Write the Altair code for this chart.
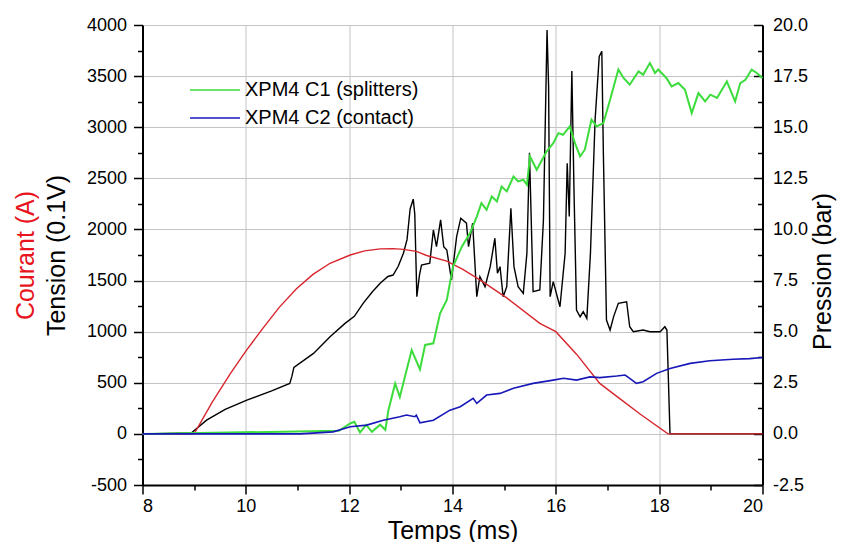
import altair as alt
import pandas as pd

# ---------------- data ----------------
temps_courant = [8.0, 9.0, 9.35, 9.7, 10.0, 10.34, 10.65, 10.98, 11.3, 11.63, 12.02, 12.3, 12.6,
                 12.85, 13.05, 13.3, 13.5, 13.89, 14.2, 14.53, 15.05, 15.69, 16.0, 16.4, 16.85,
                 17.25, 17.63, 18.17, 20.0]
courant = [0, 0, 310, 590, 810, 1040, 1240, 1420, 1560, 1669, 1750, 1790, 1810,
           1812, 1805, 1785, 1745, 1690, 1610, 1506, 1330, 1081, 1000, 780, 494,
           340, 195, 0, 0]

temps_tension = [8.0, 8.95, 9.24, 9.6, 10.02, 10.5, 10.85, 10.89, 10.93, 11.31, 11.63, 11.92, 12.1,
                 12.27, 12.45, 12.6, 12.75, 12.85, 12.95, 13.05, 13.12, 13.18, 13.24, 13.27, 13.31,
                 13.36, 13.40, 13.56, 13.63, 13.69, 13.77, 13.83, 13.89, 13.98, 14.08, 14.16, 14.27,
                 14.31, 14.39, 14.47, 14.53, 14.63, 14.73, 14.82, 14.87, 14.92, 14.98, 15.05, 15.13,
                 15.19, 15.27, 15.37, 15.44, 15.49, 15.56, 15.69, 15.76, 15.83, 15.86, 15.89, 15.95,
                 16.08, 16.18, 16.22, 16.26, 16.31, 16.35, 16.40, 16.47, 16.53, 16.60, 16.67, 16.76,
                 16.84, 16.89, 16.92, 16.98, 17.05, 17.12, 17.21, 17.37, 17.43, 17.50, 17.69, 17.82,
                 18.02, 18.11, 18.15, 18.21, 20.0]
tension = [0, 10, 134, 240, 330, 420, 494, 560, 650, 787, 950, 1081, 1150,
           1277, 1390, 1473, 1540, 1554, 1640, 1767, 1900, 2200, 2296, 2150, 1342,
           1550, 1652, 1669, 1995, 1832, 2093, 1832, 1799, 1506, 1930, 2110, 2061,
           1832, 2061, 1342, 1538, 1440, 1636, 1914, 1571, 1636, 1342, 1440, 2208,
           1636, 1440, 1375, 1767, 2750, 1391, 1408, 2093, 3950, 3399, 1342, 1489,
           1244, 1767, 2648, 2126, 3550, 2420, 1212, 1146, 1195, 1130, 1767, 3073,
           3693, 3742, 2747, 1114, 1016, 1150, 1277, 1293, 1048, 999, 1016, 999,
           999, 1048, 1016, 0, 0]

temps_c1 = [8.0, 11.8, 12.02, 12.1, 12.21, 12.33, 12.44, 12.6, 12.7, 12.76, 12.89, 12.98, 13.21,
            13.37, 13.47, 13.63, 13.76, 13.89, 14.01, 14.18, 14.34, 14.47, 14.56, 14.66, 14.76,
            14.86, 14.95, 15.05, 15.18, 15.27, 15.37, 15.44, 15.50, 15.63, 15.82, 15.95, 16.05,
            16.14, 16.27, 16.37, 16.47, 16.56, 16.69, 16.79, 16.92, 17.05, 17.21, 17.31, 17.43,
            17.60, 17.69, 17.82, 17.92, 17.98, 18.14, 18.24, 18.37, 18.50, 18.63, 18.76, 18.89,
            18.99, 19.12, 19.31, 19.47, 19.57, 19.67, 19.79, 19.89, 20.0]
pression_c1 = [0, 0.15, 0.51, 0.59, 0.07, 0.44, 0.10, 0.45, 0.20, 1.16, 2.47, 1.81, 4.10,
               3.15, 4.35, 4.43, 5.90, 6.55, 8.18, 9.16, 9.82, 10.63, 11.29, 10.96, 11.61,
               11.37, 12.10, 11.86, 12.59, 12.35, 12.43, 12.18, 13.57, 12.92, 13.81, 14.22, 14.71,
               14.63, 15.04, 14.22, 13.57, 13.90, 15.37, 15.04, 15.20, 16.34, 17.82, 17.41, 17.08,
               17.73, 17.57, 18.14, 17.65, 17.82, 17.41, 17.00, 17.16, 16.83, 15.69, 16.67, 16.26,
               16.59, 16.43, 17.24, 16.26, 17.16, 17.32, 17.82, 17.65, 17.41]

temps_c2 = [8.0, 11.05, 11.69, 12.02, 12.34, 12.66, 12.98, 13.11, 13.27, 13.3, 13.37, 13.63, 13.95,
            14.15, 14.40, 14.47, 14.66, 14.92, 15.18, 15.56, 15.95, 16.15, 16.4, 16.66, 16.85,
            17.18, 17.34, 17.43, 17.56, 17.69, 17.95, 18.21, 18.6, 18.98, 19.43, 19.75, 20.0]
pression_c2 = [0, 0, 0.10, 0.35, 0.43, 0.67, 0.84, 0.92, 0.84, 0.92, 0.54, 0.67, 1.16,
               1.33, 1.74, 1.49, 1.90, 1.98, 2.23, 2.47, 2.63, 2.72, 2.63, 2.79, 2.75,
               2.83, 2.88, 2.72, 2.47, 2.55, 2.96, 3.20, 3.45, 3.58, 3.65, 3.68, 3.74]

x_ticks_major = [8, 10, 12, 14, 16, 18, 20]
x_ticks_minor = [9, 11, 13, 15, 17, 19]
y_left_major = [-500, 0, 500, 1000, 1500, 2000, 2500, 3000, 3500, 4000]
y_left_minor = [-250, 250, 750, 1250, 1750, 2250, 2750, 3250, 3750]
y_right_major = [-2.5, 0.0, 2.5, 5.0, 7.5, 10.0, 12.5, 15.0, 17.5, 20.0]
y_right_minor = [-1.25, 1.25, 3.75, 6.25, 8.75, 11.25, 13.75, 16.25, 18.75]

C1_LABEL = "XPM4 C1 (splitters)"
C2_LABEL = "XPM4 C2 (contact)"

# ---------------- styling ----------------
FONT = "Liberation Sans"
GRID = "#c4c4c4"
RED = "#d8262e"
GREEN = "#3cdc3c"
BLUE = "#1818b8"
MINUS = "\u2212"

df_courant = pd.DataFrame({"t": temps_courant, "v": courant})
df_tension = pd.DataFrame({"t": temps_tension, "v": tension})
df_c1 = pd.DataFrame({"t": temps_c1, "p": pression_c1, "serie": C1_LABEL})
df_c2 = pd.DataFrame({"t": temps_c2, "p": pression_c2, "serie": C2_LABEL})

xs = alt.Scale(domain=[8, 20], nice=False, zero=False)
yl = alt.Scale(domain=[-500, 4000], nice=False, zero=False)
yr = alt.Scale(domain=[-2.5, 20], nice=False, zero=False)

common_tick = dict(tickColor="black", tickWidth=1.5)

x_major_axis = alt.Axis(orient="bottom", values=x_ticks_major, format="d", grid=True, gridColor=GRID,
                        gridWidth=1, tickSize=9, domainColor="black", domainWidth=2,
                        labelFont=FONT, labelFontSize=18, labelColor="black", labelPadding=3,
                        title="Temps (ms)", titleFont=FONT, titleFontSize=25, titleFontWeight="normal",
                        titleColor="black", titleBaseline="alphabetic", titleY=53, **common_tick)
x_minor_axis = alt.Axis(orient="bottom", values=x_ticks_minor, grid=False, domain=False, labels=False,
                        tickSize=5, title=None, **common_tick)

y_left_major_axis = alt.Axis(orient="left", values=y_left_major, grid=True, gridColor=GRID,
                             labelExpr=f"replace(format(datum.value, 'd'), '{MINUS}', '-')",
                             gridWidth=1, tickSize=9, domainColor="black", domainWidth=2,
                             labelFont=FONT, labelFontSize=18, labelColor="black", labelPadding=7,
                             title="Tension (0.1V)", titleFont=FONT, titleFontSize=25,
                             titleFontWeight="normal", titleColor="black", titleAngle=270,
                             titleBaseline="alphabetic", titleAlign="center", titleX=-78, titleY=230,
                             **common_tick)
y_left_minor_axis = alt.Axis(orient="left", values=y_left_minor, grid=False, domain=False, labels=False,
                             tickSize=5, title="Courant (A)", titleFont=FONT, titleFontSize=25,
                             titleFontWeight="normal", titleColor="#e8141e", titleAngle=270,
                             titleBaseline="alphabetic", titleAlign="center", titleX=-109, titleY=230,
                             **common_tick)

y_right_label_axis = alt.Axis(orient="right", values=y_right_major, grid=False,
                              labelExpr=f"replace(format(datum.value, '.1f'), '{MINUS}', '-')",
                              ticks=False, tickSize=0, domainColor="black", domainWidth=2,
                              labelFont=FONT, labelFontSize=18, labelColor="black", labelPadding=10,
                              title="Pression (bar)", titleFont=FONT, titleFontSize=25,
                              titleFontWeight="normal", titleColor="black", titleAngle=270,
                              titleBaseline="alphabetic", titleAlign="center", titleX=68, titleY=246)
y_right_major_ticks = alt.Axis(orient="left", offset=-620, values=y_right_major, grid=False,
                               domain=False, labels=False, tickSize=9, title=None, **common_tick)
y_right_minor_ticks = alt.Axis(orient="left", offset=-620, values=y_right_minor, grid=False,
                               domain=False, labels=False, tickSize=5, title=None, **common_tick)

# legend: a wide horizontal stroke symbol drawn from a small symbol size
color_scale = alt.Scale(domain=[C1_LABEL, C2_LABEL], range=[GREEN, BLUE])
legend = alt.Legend(orient="none", legendX=62.5, legendY=55, title=None,
                    symbolType="M-5,0H5", symbolSize=100, symbolStrokeWidth=1.6,
                    labelFont=FONT, labelFontSize=20, labelColor="black", labelOffset=20,
                    labelLimit=400, rowPadding=8)

black = alt.Chart(df_tension).mark_line(color="black", strokeWidth=1.4).encode(
    x=alt.X("t:Q", scale=xs, axis=x_minor_axis),
    y=alt.Y("v:Q", scale=yl, axis=y_left_minor_axis),
)
red = alt.Chart(df_courant).mark_line(color=RED, strokeWidth=1.4).encode(
    x=alt.X("t:Q", scale=xs, axis=x_major_axis),
    y=alt.Y("v:Q", scale=yl, axis=y_left_major_axis),
)
green = alt.Chart(df_c1).mark_line(strokeWidth=2).encode(
    x=alt.X("t:Q", scale=xs, axis=None),
    y=alt.Y("p:Q", scale=yr, axis=y_right_label_axis),
    color=alt.Color("serie:N", scale=color_scale, legend=legend),
)
blue = alt.Chart(df_c2).mark_line(strokeWidth=1.6).encode(
    x=alt.X("t:Q", scale=xs, axis=None),
    y=alt.Y("p:Q", scale=yr, axis=y_right_major_ticks),
    color=alt.Color("serie:N", scale=color_scale, legend=legend),
)
ghost = alt.Chart(df_c2).mark_line(opacity=0).encode(
    x=alt.X("t:Q", scale=xs, axis=None),
    y=alt.Y("p:Q", scale=yr, axis=y_right_minor_ticks),
)

chart = alt.layer(black, red, green, blue, ghost).resolve_scale(
    x="independent", y="independent"
).properties(
    width=620, height=460,
    autosize=alt.AutoSizeParams(type="none"),
    padding={"left": 134.5, "top": 17, "right": 74.5, "bottom": 57},
    background="white",
).configure_view(strokeWidth=0)

chart.save("out.html", embed_options={"renderer": "svg", "actions": False})
